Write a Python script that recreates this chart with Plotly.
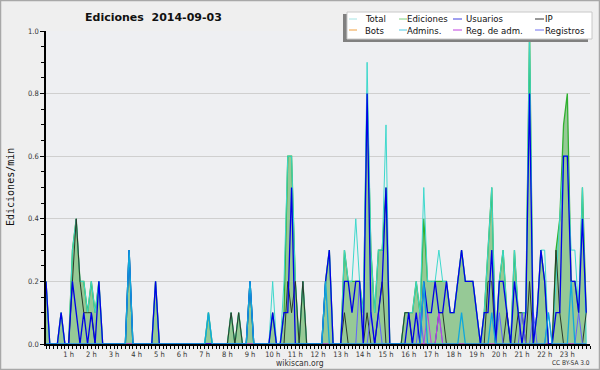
import plotly.graph_objects as go

# 10-minute buckets, 144 per day (hour = index / 6)
ediciones = [
    0.2, 0, 0, 0, 0.1, 0,   0, 0.3, 0.4, 0.2, 0.2, 0.1,
    0.2, 0.1, 0.2, 0, 0, 0,   0, 0, 0, 0, 0.3, 0,
    0, 0, 0, 0, 0, 0.2,   0, 0, 0, 0, 0, 0,
    0, 0, 0, 0, 0, 0,   0, 0.1, 0, 0, 0, 0,
    0, 0.1, 0, 0.1, 0, 0,   0.2, 0, 0, 0, 0, 0,
    0.1, 0, 0, 0.1, 0.6, 0.6,   0.2, 0, 0.2, 0, 0, 0,
    0, 0, 0.2, 0.3, 0, 0,   0, 0.3, 0.2, 0.2, 0.2, 0.2,
    0.1, 0.8, 0.3, 0.1, 0.3, 0.3,   0.5, 0, 0, 0, 0, 0.1,
    0.1, 0.1, 0.2, 0.1, 0.4, 0.2,   0.2, 0.2, 0.2, 0.2, 0.2, 0.1,
    0.1, 0.2, 0.3, 0.2, 0.2, 0.2,   0.1, 0, 0.1, 0.3, 0.5, 0,
    0.2, 0.3, 0.1, 0, 0.3, 0.1,   0.1, 0.1, 1.0, 0, 0.1, 0.3,
    0.2, 0, 0, 0.3, 0.4, 0.7,   0.8, 0.2, 0.2, 0.1, 0.5, 0.1,
]
total = [
    0.2, 0, 0, 0, 0.1, 0,   0, 0.3, 0.4, 0.2, 0.2, 0.1,
    0.2, 0.1, 0.2, 0, 0, 0,   0, 0, 0, 0, 0.3, 0,
    0, 0, 0, 0, 0, 0.2,   0, 0, 0, 0, 0, 0,
    0, 0, 0, 0, 0, 0,   0, 0.1, 0, 0, 0, 0,
    0, 0.1, 0, 0.1, 0, 0,   0.2, 0, 0, 0, 0, 0,
    0.2, 0, 0, 0.2, 0.6, 0.6,   0.2, 0, 0.2, 0, 0, 0,
    0, 0, 0.2, 0.3, 0, 0,   0, 0.3, 0.2, 0.2, 0.4, 0.2,
    0.1, 0.9, 0.3, 0.1, 0.3, 0.3,   0.7, 0, 0, 0, 0, 0.1,
    0.1, 0.1, 0.2, 0.1, 0.5, 0.2,   0.2, 0.2, 0.3, 0.2, 0.2, 0.1,
    0.1, 0.2, 0.3, 0.2, 0.2, 0.2,   0.1, 0, 0.1, 0.3, 0.5, 0,
    0.2, 0.3, 0.1, 0, 0.3, 0.1,   0.1, 0.1, 1.0, 0, 0.1, 0.3,
    0.3, 0, 0, 0.2, 0.4, 0.6,   0.6, 0.3, 0.3, 0.1, 0.5, 0,
]
usuarios = [
    0.2, 0, 0, 0, 0.1, 0,   0, 0.2, 0.1, 0, 0.1, 0,
    0.1, 0, 0.2, 0, 0, 0,   0, 0, 0, 0, 0.3, 0,
    0, 0, 0, 0, 0, 0.2,   0, 0, 0, 0, 0, 0,
    0, 0, 0, 0, 0, 0,   0, 0, 0, 0, 0, 0,
    0, 0, 0, 0, 0, 0,   0.2, 0, 0, 0, 0, 0,
    0.1, 0, 0, 0.1, 0.1, 0.5,   0, 0, 0, 0, 0, 0,
    0, 0, 0.2, 0.3, 0, 0,   0, 0.2, 0.2, 0.1, 0.2, 0.2,
    0, 0.8, 0.1, 0, 0.1, 0.2,   0.5, 0, 0, 0, 0, 0,
    0.1, 0, 0.1, 0, 0.2, 0.1,   0.1, 0.2, 0.1, 0.1, 0.2, 0.1,
    0.1, 0.2, 0.3, 0.2, 0.2, 0.2,   0.1, 0, 0.1, 0.1, 0.3, 0,
    0.2, 0.2, 0.1, 0, 0.2, 0.1,   0, 0.1, 0.8, 0, 0.1, 0.3,
    0.2, 0, 0, 0.1, 0.1, 0.6,   0.6, 0.2, 0.2, 0.1, 0.4, 0.1,
]
ip = [
    0, 0, 0, 0, 0, 0,   0, 0.2, 0.4, 0.2, 0.1, 0.1,
    0.1, 0, 0, 0, 0, 0,   0, 0, 0, 0, 0, 0,
    0, 0, 0, 0, 0, 0,   0, 0, 0, 0, 0, 0,
    0, 0, 0, 0, 0, 0,   0, 0, 0, 0, 0, 0,
    0, 0.1, 0, 0.1, 0, 0,   0, 0, 0, 0, 0, 0,
    0, 0, 0, 0, 0.2, 0.1,   0.2, 0, 0.2, 0, 0, 0,
    0, 0, 0, 0, 0, 0,   0, 0.1, 0, 0, 0, 0,
    0, 0.1, 0, 0, 0.1, 0.2,   0, 0, 0, 0, 0, 0.1,
    0.1, 0, 0, 0, 0, 0,   0, 0, 0.1, 0.1, 0, 0,
    0, 0, 0, 0, 0, 0,   0, 0, 0, 0.2, 0.2, 0,
    0, 0, 0.1, 0, 0, 0.1,   0.1, 0, 0.2, 0, 0, 0,
    0, 0, 0, 0.3, 0.1, 0,   0, 0, 0, 0, 0, 0.1,
]
admins = [
    0, 0, 0, 0, 0, 0,   0, 0, 0, 0, 0, 0,
    0, 0, 0, 0, 0, 0,   0, 0, 0, 0, 0.3, 0,
    0, 0, 0, 0, 0, 0,   0, 0, 0, 0, 0, 0,
    0, 0, 0, 0, 0, 0,   0, 0.1, 0, 0, 0, 0,
    0, 0, 0, 0, 0, 0,   0.2, 0, 0, 0, 0, 0,
    0, 0, 0, 0, 0, 0,   0, 0, 0, 0, 0, 0,
    0, 0, 0.2, 0, 0, 0,   0, 0, 0, 0, 0, 0,
    0, 0, 0, 0, 0, 0,   0, 0, 0, 0, 0, 0,
    0, 0, 0, 0, 0.2, 0,   0, 0, 0, 0, 0, 0,
    0, 0, 0.1, 0, 0, 0,   0, 0, 0, 0, 0.1, 0,
    0, 0, 0, 0, 0, 0,   0, 0, 0, 0, 0, 0,
    0, 0.1, 0, 0, 0, 0,   0, 0.2, 0, 0, 0, 0,
]
registros = [
    0, 0, 0, 0, 0, 0,   0, 0, 0, 0, 0, 0,
    0, 0, 0, 0, 0, 0,   0, 0, 0, 0, 0, 0,
    0, 0, 0, 0, 0, 0,   0, 0, 0, 0, 0, 0,
    0, 0, 0, 0, 0, 0,   0, 0, 0, 0, 0, 0,
    0, 0, 0, 0, 0, 0,   0, 0, 0, 0, 0, 0,
    0, 0, 0, 0, 0, 0,   0, 0, 0, 0, 0, 0,
    0, 0, 0, 0, 0, 0,   0, 0, 0, 0, 0, 0.2,
    0, 0, 0.1, 0, 0.1, 0,   0, 0, 0, 0, 0, 0,
    0, 0, 0, 0.1, 0, 0,   0, 0, 0.1, 0, 0, 0,
    0, 0, 0, 0, 0, 0,   0, 0, 0, 0, 0, 0,
    0.1, 0, 0, 0, 0, 0,   0.1, 0, 0, 0.1, 0, 0,
    0, 0.1, 0, 0, 0, 0,   0, 0, 0, 0.1, 0, 0,
]
reg_adm = [0] * 101 + [0.1, 0, 0, 0.1] + [0] * 39
bots = [0] * 144

hours = [i / 6 for i in range(144)]
tick_vals = list(range(1, 24))
tick_text = [f"{h} h" for h in tick_vals]

series = [
    ("Total", total, "#3dd8cc", 1.0),
    ("Bots", bots, "#f0a040", 1.0),
    ("IP", ip, "#2a3a2a", 1.0),
    ("Registros", registros, "#6060ff", 1.0),
    ("Reg. de adm.", reg_adm, "#c040e0", 1.0),
    ("Usuarios", usuarios, "#0000e8", 1.3),
    ("Admins.", admins, "#10a8dc", 1.3),
]

fig = go.Figure()
fig.add_trace(go.Scatter(x=hours, y=ediciones, mode="lines", name="Ediciones",
                         line=dict(color="#30b030", width=1.3),
                         fill="tozeroy", fillcolor="#96c996", showlegend=False))
for name, vals, col, w in series:
    fig.add_trace(go.Scatter(x=hours, y=vals, mode="lines", name=name,
                             line=dict(color=col, width=w), showlegend=False))

L, R, T, B = 46, 590, 31, 344
def px(x):
    return (x - L) / (R - L)
def py(y):
    return (B - y) / (B - T)

shapes = [
    dict(type="rect", xref="paper", yref="paper", x0=px(0.5), x1=px(599.5),
         y0=py(369.5), y1=py(0.5), line=dict(color="#a8a8a8", width=1.5), layer="below"),
    dict(type="rect", xref="paper", yref="paper", x0=px(343), x1=px(588),
         y0=py(42), y1=py(14), fillcolor="#808080", line=dict(width=0)),
    dict(type="rect", xref="paper", yref="paper", x0=px(347), x1=px(592),
         y0=py(39), y1=py(12), fillcolor="#ffffff", line=dict(color="#c8c8c8", width=1)),
]

legend_items = [
    ("Total", "#a6e4e4", 349, 357, 364, 19),
    ("Ediciones", "#80d080", 399, 407, 406, 19),
    ("Usuarios", "#4040e0", 453, 462, 465, 19),
    ("IP", "#333333", 535, 544, 544, 19),
    ("Bots", "#f0a040", 349, 357, 364, 30),
    ("Admins.", "#50c8e0", 399, 407, 406, 30),
    ("Reg. de adm.", "#c040e0", 453, 462, 465, 30),
    ("Registros", "#7070f0", 535, 544, 544, 30),
]
annotations = []
for name, col, x0, x1, tx, y in legend_items:
    shapes.append(dict(type="line", xref="paper", yref="paper", x0=px(x0), x1=px(x1),
                       y0=py(y), y1=py(y), line=dict(color=col, width=1)))
    annotations.append(dict(text=name, xref="paper", yref="paper", x=px(tx), y=py(y),
                            xanchor="left", yanchor="middle", showarrow=False, borderpad=0,
                            font=dict(family="DejaVu Sans Condensed, DejaVu Sans", size=9.5, color="#111")))

annotations += [
    dict(text="<b>Ediciones  2014-09-03</b>", xref="paper", yref="paper", x=px(153), y=py(17),
         xanchor="center", yanchor="middle", showarrow=False,
         font=dict(family="DejaVu Sans", size=11, color="#111")),
    dict(text="wikiscan.org", xref="paper", yref="paper", x=px(300), y=py(362.5),
         xanchor="center", yanchor="middle", showarrow=False, borderpad=0,
         font=dict(family="DejaVu Sans Condensed, DejaVu Sans", size=8.5, color="#333")),
    dict(text="CC BY-SA 3.0", xref="paper", yref="paper", x=px(591), y=py(362.5),
         xanchor="right", yanchor="middle", showarrow=False, borderpad=0,
         font=dict(family="DejaVu Sans Condensed, DejaVu Sans", size=6.5, color="#333")),
    dict(text="Ediciones/min", xref="paper", yref="paper", x=px(10), y=py(187),
         xanchor="center", yanchor="middle", showarrow=False, textangle=-90,
         font=dict(family="DejaVu Sans Mono", size=10, color="#111")),
]

fig.update_layout(
    width=600, height=370,
    margin=dict(l=L, r=600 - R, t=T, b=370 - B),
    paper_bgcolor="#efefef", plot_bgcolor="#eeeff2",
    shapes=shapes, annotations=annotations,
    xaxis=dict(range=[0, 24], tickvals=tick_vals, ticktext=tick_text,
               ticks="outside", ticklen=2, tickcolor="#000", showgrid=False,
               showline=True, linecolor="#000", linewidth=1.5, zeroline=False,
               tickfont=dict(family="DejaVu Sans Condensed, DejaVu Sans", size=7.5, color="#333"),
               minor=dict(dtick=1 / 6, tick0=0, ticks="outside", ticklen=3, tickcolor="#000")),
    yaxis=dict(range=[0, 1], tickvals=[0, 0.2, 0.4, 0.6, 0.8, 1.0],
               ticktext=["0.0", "0.2", "0.4", "0.6", "0.8", "1.0"],
               ticks="outside", ticklen=4, tickcolor="#000", showgrid=True,
               gridcolor="#cfcfcf", gridwidth=1, showline=True, linecolor="#000",
               linewidth=1.5, zeroline=False,
               tickfont=dict(family="DejaVu Sans Condensed, DejaVu Sans", size=7.5, color="#333"),
               minor=dict(dtick=0.05, ticks="outside", ticklen=3, tickcolor="#000", showgrid=False)),
    showlegend=False,
)

fig.write_html("out.html", config={"displayModeBar": False},
               post_script="document.body.style.margin='0';")
